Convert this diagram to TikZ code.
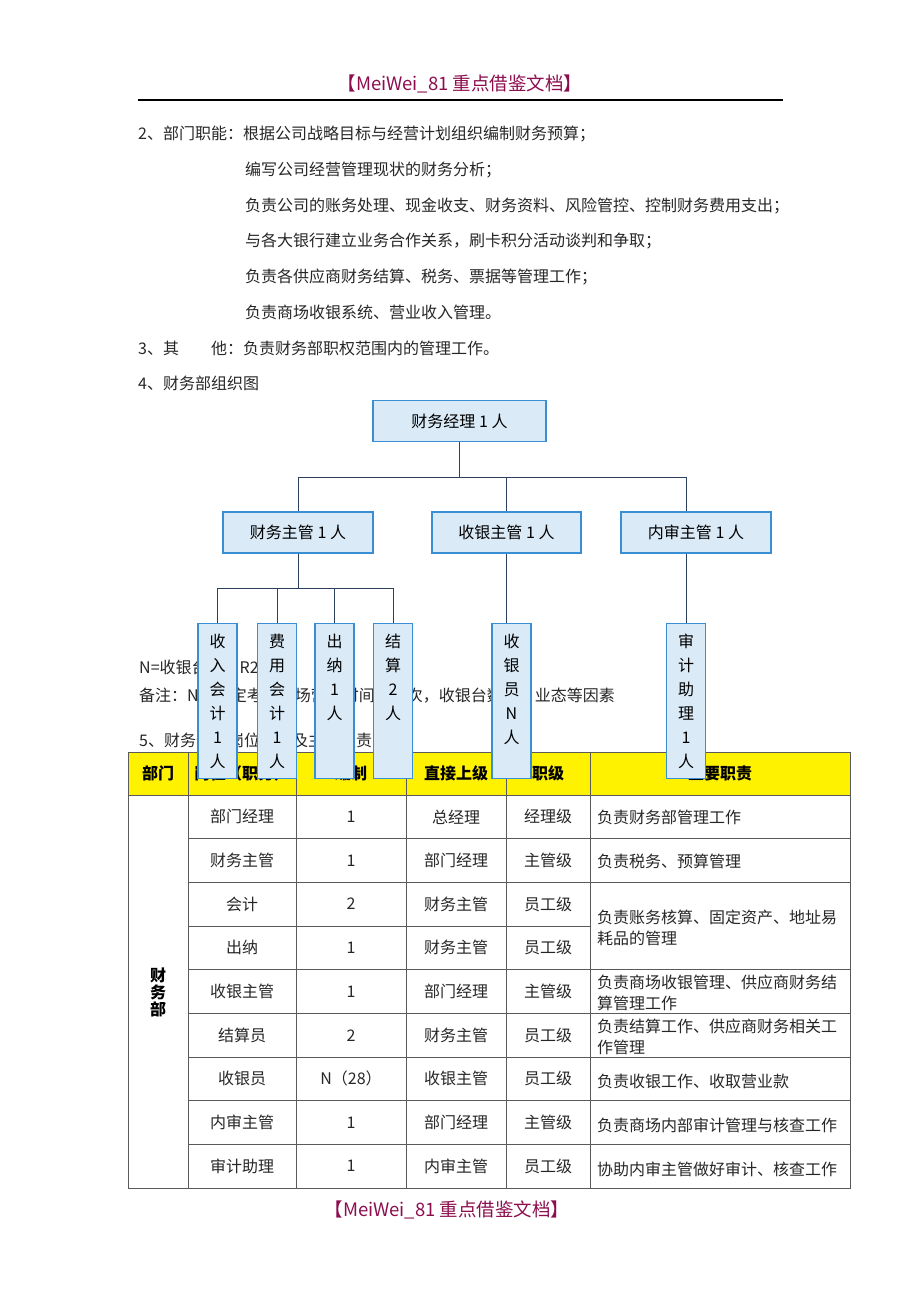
\documentclass[tikz,border=0pt]{standalone}
\usepackage{fontspec}
\setmainfont{Noto Sans CJK SC}
\usepackage{xcolor}
\usetikzlibrary{positioning,calc}

\definecolor{boxfill}{RGB}{218,234,246}
\definecolor{boxline}{RGB}{58,142,212}
\definecolor{linkcol}{RGB}{45,65,95}
\definecolor{markred}{RGB}{140,14,78}
\definecolor{gridcol}{RGB}{90,90,90}

% vertical text inside the narrow boxes
\newcommand{\vlabel}[1]{\parbox[c][155pt][t]{22pt}{\centering\fontsize{16}{24}\selectfont\rule{0pt}{24pt}#1}}

\tikzset{
  unit/.style={draw=boxline, fill=boxfill, line width=1.3pt, minimum height=41, inner sep=0, font=\fontsize{16}{20}\selectfont},
  leaf/.style={draw=boxline, fill=boxfill, line width=1.3pt, inner sep=0, minimum width=39, anchor=north},
  link/.style={draw=linkcol, line width=0.9pt},
  txt/.style={anchor=west, inner sep=0, font=\fontsize{16}{20}\selectfont, text=black!85},
  cell/.style={inner sep=0, font=\fontsize{16}{20}\selectfont, text=black!85},
  headcell/.style={cell, font=\fontsize{16}{20}\selectfont\bfseries, text=black},
  grid/.style={draw=gridcol, line width=1pt},
  banner/.style={inner sep=0, font=\fontsize{18.5}{22}\selectfont, text=markred}
}

\begin{document}
\begin{tikzpicture}[x=1pt,y=-1pt]
\useasboundingbox (0,0) rectangle (920,1302);

% page header
\node[banner] (top) at (460,84) {【MeiWei\_81 重点借鉴文档】};
\draw[line width=1.2pt] (138,100) -- (783,100);

% text lines
\node[txt] (p1) at (138,134) {2、部门职能：根据公司战略目标与经营计划组织编制财务预算；};
\node[txt] (p2) at (245,170) {编写公司经营管理现状的财务分析；};
\node[txt] (p3) at (245,206) {负责公司的账务处理、现金收支、财务资料、风险管控、控制财务费用支出；};
\node[txt] (p4) at (245,241) {与各大银行建立业务合作关系，刷卡积分活动谈判和争取；};
\node[txt] (p5) at (245,277) {负责各供应商财务结算、税务、票据等管理工作；};
\node[txt] (p6) at (245,312) {负责商场收银系统、营业收入管理。};
\node[txt] (p7) at (138,348) {3、其　　他：负责财务部职权范围内的管理工作。};
\node[txt] (p8) at (138,383) {4、财务部组织图};
\node[txt] (n1) at (139,667) {N=收银台数×R2};
\node[txt] (n2) at (139,696) {备注：N的确定考虑商场营业时间、班次，收银台数量、业态等因素};
\node[txt] (n3) at (139,740) {5、财务部门岗位设置及主要职责};

% table
\fill[yellow] (128,752) rectangle (850,795);
\draw[grid] (128,752) rectangle (850,1188);
\draw[grid] (128,795) -- (850,795);
\foreach \x in {188,296,406,506,590}
  \draw[grid] (\x,752) -- (\x,1188);
\foreach \k in {1,2,4,5,6,7,8}
  \draw[grid] (188,{795+43.67*\k}) -- (850,{795+43.67*\k});
\draw[grid] (188,{795+43.67*3}) -- (590,{795+43.67*3});

\node[headcell] (h0) at (158,773) {部门};
\node[headcell] (h1) at (242,773) {岗位（职务）};
\node[headcell] (h2) at (351,773) {编制};
\node[headcell] (h3) at (456,773) {直接上级};
\node[headcell] (h4) at (548,773) {职级};
\node[headcell] (h5) at (720,773) {主要职责};
\node[headcell, align=center, font=\fontsize{16}{17}\selectfont\bfseries] (dept) at (158,992) {财\\务\\部};

\foreach \r/\a/\b/\c/\d in {1/部门经理/1/总经理/经理级, 2/财务主管/1/部门经理/主管级,
    3/会计/2/财务主管/员工级, 4/出纳/1/财务主管/员工级, 5/收银主管/1/部门经理/主管级,
    6/结算员/2/财务主管/员工级, 7/收银员/N（28）/收银主管/员工级,
    8/内审主管/1/部门经理/主管级, 9/审计助理/1/内审主管/员工级}{
  \node[cell] at (242,{795+43.67*(\r-0.5)}) {\a};
  \node[cell] at (351,{795+43.67*(\r-0.5)}) {\b};
  \node[cell] at (456,{795+43.67*(\r-0.5)}) {\c};
  \node[cell] at (548,{795+43.67*(\r-0.5)}) {\d};
}
\node[txt] (d1) at (597,817) {负责财务部管理工作};
\node[txt] (d2) at (597,861) {负责税务、预算管理};
\node[txt, align=left, font=\fontsize{16}{21}\selectfont] (d3) at (597,928) {负责账务核算、固定资产、地址易\\耗品的管理};
\node[txt, align=left, font=\fontsize{16}{20.5}\selectfont] (d5) at (597,993) {负责商场收银管理、供应商财务结\\算管理工作};
\node[txt, align=left, font=\fontsize{16}{20.5}\selectfont] (d6) at (597,1037) {负责结算工作、供应商财务相关工\\作管理};
\node[txt] (d7) at (597,1081) {负责收银工作、收取营业款};
\node[txt] (d8) at (597,1125) {负责商场内部审计管理与核查工作};
\node[txt] (d9) at (597,1169) {协助内审主管做好审计、核查工作};

% org chart
\node[unit, minimum width=173] (mgr) at (459.5,421) {财务经理 1 人};
\node[unit, minimum width=150] (fin) at (298,532.5) {财务主管 1 人};
\node[unit, minimum width=149] (cash) at (506.5,532.5) {收银主管 1 人};
\node[unit, minimum width=150] (audit) at (696,532.5) {内审主管 1 人};

\node[leaf] (inc) at (217.5,623) {\vlabel{收\\入\\会\\计\\1\\人}};
\node[leaf] (fee) at (277,623) {\vlabel{费\\用\\会\\计\\1\\人}};
\node[leaf] (teller) at (334.5,623) {\vlabel{出\\纳\\1\\人}};
\node[leaf] (settle) at (393,623) {\vlabel{结\\算\\2\\人}};
\node[leaf] (cashier) at (511.5,623) {\vlabel{收\\银\\员\\N\\人}};
\node[leaf] (aide) at (686,623) {\vlabel{审\\计\\助\\理\\1\\人}};

\draw[link] (mgr.south) -- ++(0,35.5) -| (fin.north);
\draw[link] (mgr.south) -- ++(0,35.5) -| (cash.north);
\draw[link] (mgr.south) -- ++(0,35.5) -| ([xshift=-10]audit.north);
\draw[link] (fin.south) -- ++(0,35) -| (inc.north);
\draw[link] (fin.south) -- ++(0,35) -| (fee.north);
\draw[link] (fin.south) -- ++(0,35) -| (teller.north);
\draw[link] (fin.south) -- ++(0,35) -| (settle.north);
\draw[link] (cash.south) -- (cash.south |- cashier.north);
\draw[link] ([xshift=-10]audit.south) -- (aide.north);

% page footer
\node[banner] (bottom) at (447,1210) {【MeiWei\_81 重点借鉴文档】};
\end{tikzpicture}
\end{document}
